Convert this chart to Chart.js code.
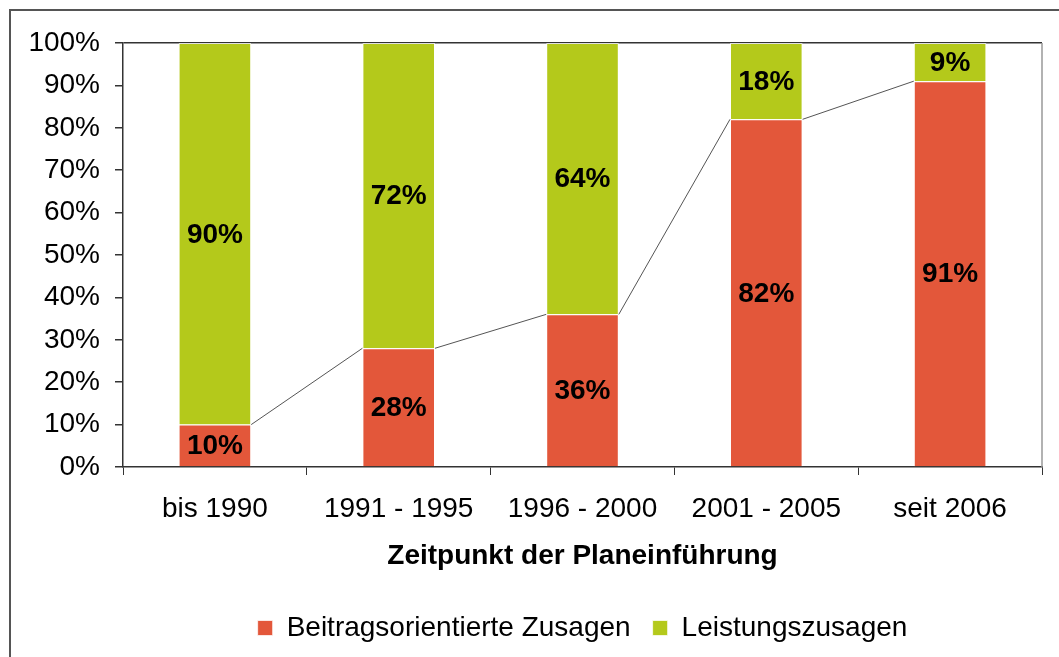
<!DOCTYPE html>
<html>
<head>
<meta charset="utf-8">
<script src="https://cdn.jsdelivr.net/npm/chart.js@4/dist/chart.umd.min.js"></script>
<style>
  html, body { margin: 0; padding: 0; background: #fff; overflow: hidden; }
  canvas { display: block; }
</style>
</head>
<body>
<canvas id="chart" width="1059" height="657"></canvas>
<script>
// Zeitpunkt der Planeinführung -> Anteil der Zusagearten
const categories = ["bis 1990", "1991 - 1995", "1996 - 2000", "2001 - 2005", "seit 2006"];
const beitragsorientiert = [10, 28, 36, 82, 91];
const leistungszusagen = [90, 72, 64, 18, 9];
const yTicks = [0, 10, 20, 30, 40, 50, 60, 70, 80, 90, 100];

const RED = "#e3573a";
const GREEN = "#b4c91b";
const FONT = "'Liberation Sans', Arial, sans-serif";

// white background + frame
const framePlugin = {
  id: "frame",
  beforeDraw(chart) {
    const ctx = chart.ctx;
    ctx.save();
    ctx.fillStyle = "#fff";
    ctx.fillRect(0, 0, chart.width, chart.height);
    ctx.strokeStyle = "#555";
    ctx.lineWidth = 2;
    ctx.beginPath();
    ctx.moveTo(10, chart.height);
    ctx.lineTo(10, 10);
    ctx.lineTo(chart.width, 10);
    ctx.stroke();
    ctx.restore();
  },
  afterDraw(chart) {
    // right border of the plot area
    const a = chart.chartArea;
    const ctx = chart.ctx;
    ctx.save();
    ctx.strokeStyle = "#999";
    ctx.lineWidth = 1.5;
    ctx.beginPath();
    ctx.moveTo(a.right, a.top);
    ctx.lineTo(a.right, a.bottom);
    ctx.stroke();
    ctx.restore();
  }
};

// series lines between the tops of the red segments
const seriesLines = {
  id: "seriesLines",
  afterDatasetsDraw(chart) {
    const bars = chart.getDatasetMeta(0).data;
    const ctx = chart.ctx;
    ctx.save();
    ctx.strokeStyle = "#555";
    ctx.lineWidth = 1;
    ctx.beginPath();
    for (let i = 0; i < bars.length - 1; i++) {
      const a = bars[i], b = bars[i + 1];
      ctx.moveTo(a.x + a.width / 2, a.y);
      ctx.lineTo(b.x - b.width / 2, b.y);
    }
    ctx.stroke();
    ctx.restore();
  }
};

// value labels in the middle of each segment
const valueLabels = {
  id: "valueLabels",
  afterDatasetsDraw(chart) {
    const ctx = chart.ctx;
    ctx.save();
    ctx.font = "bold 28px " + FONT;
    ctx.fillStyle = "#000";
    ctx.textAlign = "center";
    ctx.textBaseline = "middle";
    chart.data.datasets.forEach((ds, di) => {
      chart.getDatasetMeta(di).data.forEach((bar, i) => {
        ctx.fillText(ds.data[i] + "%", bar.x, (bar.y + bar.base) / 2 + 1);
      });
    });
    ctx.restore();
  }
};

new Chart(document.getElementById("chart"), {
  type: "bar",
  data: {
    labels: categories,
    datasets: [
      {
        label: "Beitragsorientierte Zusagen",
        data: beitragsorientiert,
        backgroundColor: RED,
        borderColor: "rgba(255,255,255,0.7)",
        borderWidth: 1,
        barPercentage: 0.395,
        categoryPercentage: 1
      },
      {
        label: "Leistungszusagen",
        data: leistungszusagen,
        backgroundColor: GREEN,
        borderColor: "rgba(255,255,255,0.7)",
        borderWidth: 1,
        barPercentage: 0.395,
        categoryPercentage: 1
      }
    ]
  },
  options: {
    responsive: false,
    animation: false,
    layout: { padding: { top: 43, right: 17, left: 0, bottom: 5 } },
    plugins: {
      tooltip: { enabled: false },
      legend: {
        position: "bottom",
        fullSize: false,
        labels: {
          boxWidth: 15,
          boxHeight: 15,
          padding: 22,
          color: "#000",
          font: { family: FONT, size: 28 }
        }
      }
    },
    scales: {
      x: {
        stacked: true,
        afterFit(scale) { scale.height = 125; },
        grid: {
          offset: true,
          drawOnChartArea: false,
          drawTicks: true,
          tickLength: 8,
          tickColor: "#333"
        },
        border: { color: "#333", width: 1.5 },
        ticks: {
          color: "#000",
          padding: 17,
          font: { family: FONT, size: 28 }
        },
        title: {
          display: true,
          text: "Zeitpunkt der Planeinführung",
          color: "#000",
          font: { family: FONT, size: 28, weight: "bold" },
          padding: { top: 4, bottom: 19 }
        }
      },
      y: {
        stacked: true,
        min: 0,
        max: 100,
        afterFit(scale) { scale.width = 123; },
        afterBuildTicks(scale) { scale.ticks = yTicks.map(v => ({ value: v })); },
        grid: {
          drawOnChartArea: true,
          color: ctx => (ctx.tick && ctx.tick.value === 100 ? "#333" : "rgba(0,0,0,0)"),
          lineWidth: 1.5,
          drawTicks: true,
          tickLength: 8,
          tickColor: "#333"
        },
        border: { color: "#333", width: 1.5 },
        ticks: {
          color: "#000",
          padding: 15,
          font: { family: FONT, size: 28 },
          callback: v => v + "%"
        }
      }
    }
  },
  plugins: [framePlugin, seriesLines, valueLabels]
});
</script>
</body>
</html>
